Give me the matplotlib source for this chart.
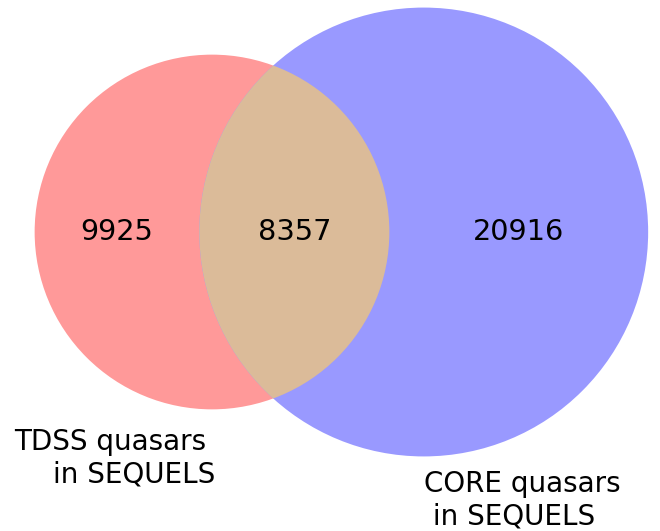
import numpy as np
import matplotlib.pyplot as plt
from matplotlib.patches import Circle

# subset sizes: A only, B only, A and B
set_labels = ["TDSS quasars \nin SEQUELS", "CORE quasars\n in SEQUELS"]
only_a = 9925
only_b = 20916
both = 8357

size_a = only_a + both
size_b = only_b + both

# circle areas proportional to set sizes
r_a = np.sqrt(size_a / np.pi)
r_b = np.sqrt(size_b / np.pi)


def lens_area(d, r1, r2):
    if d >= r1 + r2:
        return 0.0
    if d <= abs(r1 - r2):
        return np.pi * min(r1, r2)**2
    a1 = r1**2 * np.arccos((d**2 + r1**2 - r2**2) / (2 * d * r1))
    a2 = r2**2 * np.arccos((d**2 + r2**2 - r1**2) / (2 * d * r2))
    k = np.sqrt((-d + r1 + r2) * (d + r1 - r2) * (d - r1 + r2) * (d + r1 + r2))
    return a1 + a2 - 0.5 * k


# find the centre distance giving the right overlap area
lo, hi = abs(r_a - r_b), r_a + r_b
for _ in range(100):
    mid = 0.5 * (lo + hi)
    if lens_area(mid, r_a, r_b) > both:
        lo = mid
    else:
        hi = mid
dist = 0.5 * (lo + hi)

ca = np.array([0.0, 0.0])
cb = np.array([dist, 0.0])

fig = plt.figure(figsize=(6.6, 5.31), dpi=100)
ax = fig.add_axes([0, 0, 1, 1])
ax.axis("off")

# pixel scale so the picture frames the circles like the original
s = 2.325
left = ca[0] - 212 / s
bottom = -(531 - 232) / s
ax.set_xlim(left, left + 660 / s)
ax.set_ylim(bottom, bottom + 531 / s)

circ_a = Circle(ca, r_a, facecolor="#ff9999", edgecolor="none")
circ_b = Circle(cb, r_b, facecolor="#9999ff", edgecolor="none")
ax.add_patch(circ_a)
ax.add_patch(circ_b)
lens = Circle(ca, r_a, facecolor="#dbbb99", edgecolor="none")
ax.add_patch(lens)
lens.set_clip_path(circ_b)

# subset labels at the middle of each region's horizontal extent
xa = ((ca[0] - r_a) + (cb[0] - r_b)) / 2
xab = ((cb[0] - r_b) + (ca[0] + r_a)) / 2
xb = ((ca[0] + r_a) + (cb[0] + r_b)) / 2
fs = 20.7
ax.text(xa, 0, str(only_a), ha="center", va="center", fontsize=fs)
ax.text(xab, 0, str(both), ha="center", va="center", fontsize=fs)
ax.text(xb, 0, str(only_b), ha="center", va="center", fontsize=fs)

# set labels under each circle
ax.text(ca[0] + 1.5, -r_a - 8, set_labels[0], ha="right", va="top", fontsize=20)
ax.text(cb[0], -r_b - 6, set_labels[1], ha="left", va="top", fontsize=20)

fig.savefig("out.png", dpi=100)
